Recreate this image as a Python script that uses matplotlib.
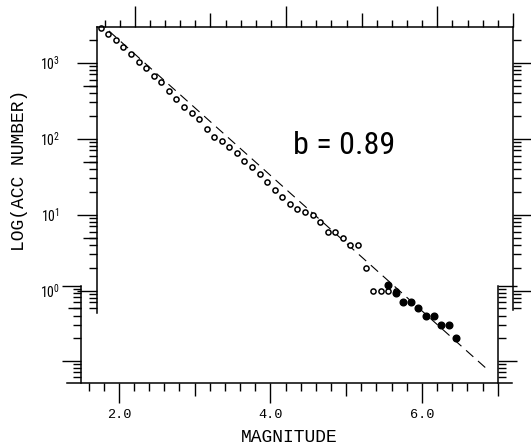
import numpy as np
import matplotlib
matplotlib.use('Agg')
import matplotlib.pyplot as plt
from matplotlib.ticker import FixedLocator, NullFormatter, NullLocator
from matplotlib.lines import Line2D
import logging
logging.getLogger('matplotlib.font_manager').setLevel(logging.ERROR)

plt.rcParams['lines.scale_dashes'] = False

W, H, DPI = 531, 448, 100

# ---------------- data ----------------
mag_open = [1.55, 1.65, 1.75, 1.85, 1.95, 2.05, 2.15, 2.25, 2.35, 2.45,
            2.55, 2.65, 2.75, 2.85, 2.95, 3.05, 3.15, 3.25, 3.35, 3.45,
            3.55, 3.65, 3.75, 3.85, 3.95, 4.05, 4.15, 4.25, 4.35, 4.45,
            4.55, 4.65, 4.75, 4.85, 4.95, 5.05, 5.15, 5.25, 5.35, 5.45]
n_open = [2860, 2390, 1970, 1600, 1300, 1030, 845, 670, 555, 430,
          330, 265, 215, 180, 134, 106, 93, 78, 65, 51,
          43, 34, 27, 21, 17, 14, 12, 11, 10, 8,
          6, 6, 5, 4, 4, 2, 1, 1, 1, 1]
mag_filled = [5.35, 5.45, 5.55, 5.65, 5.75, 5.85, 5.95, 6.05, 6.15, 6.25]
n_filled = [1.18, 0.94, 0.71, 0.71, 0.59, 0.47, 0.47, 0.354, 0.354, 0.241]

b_value = 0.89
fit_intercept = 4.893
fit_mag = [1.5, 6.67]

x_major = [2.0, 4.0, 6.0]
x_mid = [3.0, 5.0, 7.0]
x_minor = [1.6, 1.8, 2.2, 2.4, 2.6, 2.8, 3.2, 3.4, 3.6, 3.8, 4.2, 4.4, 4.6, 4.8,
           5.2, 5.4, 5.6, 5.8, 6.2, 6.4, 6.6, 6.8]
x_labels = ['2.0', '4.0', '6.0']
y_major_up = [1, 10, 100, 1000]
y_labels_up = [r'$\mathregular{10^{0}}$', r'$\mathregular{10^{1}}$',
               r'$\mathregular{10^{2}}$', r'$\mathregular{10^{3}}$']
y_minor_up = [0.6, 0.7, 0.8, 0.9, 2, 3, 4, 5, 6, 7, 8, 9,
              20, 30, 40, 50, 60, 70, 80, 90,
              200, 300, 400, 500, 600, 700, 800, 900, 2000]
y_five_up = [5, 50, 500]
y_major_lo = [0.1, 1.0]
y_minor_lo = [0.06, 0.07, 0.08, 0.09, 0.2, 0.3, 0.4, 0.5, 0.6, 0.7, 0.8, 0.9]
y_five_lo = [0.5]

mono = ['Liberation Mono', 'DejaVu Sans Mono']
narrow = ['Roboto Condensed', 'Archivo Narrow', 'PT Sans Narrow',
          'Liberation Sans Narrow', 'Liberation Sans', 'DejaVu Sans']

fig = plt.figure(figsize=(W / DPI, H / DPI), dpi=DPI)


def rect(l, t, r, b):
    return [l / W, 1 - b / H, (r - l) / W, (b - t) / H]


LW = 1.1
TW = 1.0

# ---------------- upper (data) axes ----------------
up_rect = rect(97, 27.3, 513, 383)
up_ylim = (10 ** -1.2145, 10 ** 3.4658)
ax = fig.add_axes(up_rect)
ax.patch.set_alpha(0)
ax.set_xlim(1.5, 7.0)
ax.set_yscale('log')
ax.set_ylim(*up_ylim)
for s in ax.spines.values():
    s.set_linewidth(LW)
ax.spines['bottom'].set_visible(False)
ax.spines['left'].set_bounds(0.513, up_ylim[1])
ax.spines['right'].set_bounds(0.557, up_ylim[1])

ax.xaxis.set_ticks_position('top')
ax.xaxis.set_major_locator(FixedLocator(x_major))
ax.xaxis.set_minor_locator(FixedLocator(x_minor))
ax.xaxis.set_major_formatter(NullFormatter())
ax.xaxis.set_minor_formatter(NullFormatter())
ax.tick_params(axis='x', which='major', direction='out', length=15, width=TW, labeltop=False, labelbottom=False)
ax.tick_params(axis='x', which='minor', direction='out', length=5, width=TW)

ax.yaxis.set_ticks_position('both')
ax.yaxis.set_major_locator(FixedLocator(y_major_up))
ax.yaxis.set_minor_locator(FixedLocator(y_minor_up))
ax.yaxis.set_minor_formatter(NullFormatter())
ax.set_yticklabels(y_labels_up, fontfamily=narrow, fontsize=10)
ax.tick_params(axis='y', which='major', direction='out', length=14.4, width=TW, pad=12)
ax.tick_params(axis='y', which='minor', direction='out', length=6, width=TW)

ax.plot(fit_mag, [10 ** (fit_intercept - b_value * m) for m in fit_mag],
        color='black', lw=0.8, linestyle=(0, (7, 4.5)))
ax.plot(mag_open, n_open, linestyle='none', marker='o', markersize=3.7,
        markerfacecolor='white', markeredgecolor='black', markeredgewidth=1.1, clip_on=False)
ax.plot(mag_filled, n_filled, linestyle='none', marker='o', markersize=4.8,
        color='black', clip_on=False)

# overlay for medium-length ticks on the upper plot
ov = fig.add_axes(up_rect, frameon=False)
ov.set_xlim(1.5, 7.0)
ov.set_yscale('log')
ov.set_ylim(*up_ylim)
ov.xaxis.set_ticks_position('top')
ov.xaxis.set_major_locator(FixedLocator(x_mid))
ov.xaxis.set_minor_locator(NullLocator())
ov.yaxis.set_ticks_position('left')
ov.yaxis.set_major_locator(FixedLocator(y_five_up))
ov.yaxis.set_minor_locator(NullLocator())
ov.tick_params(which='both', direction='out', width=TW, length=10,
               labelleft=False, labeltop=False, labelbottom=False, labelright=False)

# ---------------- lower axes ----------------
lo_rect = rect(81, 285.7, 497.7, 383)
lo_ylim = (10 ** -1.2973, 1.0)
axl = fig.add_axes(lo_rect)
axl.patch.set_alpha(0)
axl.set_xlim(1.5, 7.0)
axl.set_yscale('log')
axl.set_ylim(*lo_ylim)
for s in axl.spines.values():
    s.set_linewidth(LW)
axl.spines['top'].set_visible(False)
axl.spines['bottom'].set_visible(False)

axl.xaxis.set_ticks_position('bottom')
axl.xaxis.set_major_locator(FixedLocator(x_major))
axl.xaxis.set_minor_locator(FixedLocator(x_minor))
axl.set_xticklabels(x_labels, fontfamily=mono, fontsize=9.7)
axl.tick_params(axis='x', which='major', direction='out', length=14.4, width=TW, pad=4)
axl.tick_params(axis='x', which='minor', direction='out', length=5.8, width=TW)

axl.yaxis.set_ticks_position('both')
axl.yaxis.set_major_locator(FixedLocator(y_major_lo))
axl.yaxis.set_minor_locator(FixedLocator(y_minor_lo))
axl.yaxis.set_major_formatter(NullFormatter())
axl.yaxis.set_minor_formatter(NullFormatter())
axl.tick_params(axis='y', which='major', direction='out', length=13.5, width=TW)
axl.tick_params(axis='y', which='minor', direction='out', length=5.8, width=TW)

ovl = fig.add_axes(lo_rect, frameon=False)
ovl.set_xlim(1.5, 7.0)
ovl.set_yscale('log')
ovl.set_ylim(*lo_ylim)
ovl.xaxis.set_ticks_position('bottom')
ovl.xaxis.set_major_locator(FixedLocator(x_mid))
ovl.xaxis.set_minor_locator(NullLocator())
ovl.yaxis.set_ticks_position('left')
ovl.yaxis.set_major_locator(FixedLocator(y_five_lo))
ovl.yaxis.set_minor_locator(NullLocator())
ovl.tick_params(which='both', direction='out', width=TW, length=9.5,
                labelleft=False, labeltop=False, labelbottom=False, labelright=False)

# bottom base line spanning both frames
fig.add_artist(Line2D([67 / W, 512 / W], [1 - 383 / H, 1 - 383 / H],
                      transform=fig.transFigure, color='black', lw=LW))

# ---------------- texts ----------------
fig.text(292.7 / W, 1 - 154 / H, 'b = 0.89', fontsize=23, fontfamily=narrow,
         ha='left', va='baseline')
fig.text(289 / W, 1 - 437 / H, 'MAGNITUDE', fontsize=13, fontfamily=mono,
         ha='center', va='center')
fig.text(20 / W, 1 - 170 / H, 'LOG(ACC NUMBER)', fontsize=13, fontfamily=mono,
         rotation=90, ha='center', va='center')

fig.savefig('out.png', dpi=DPI)
